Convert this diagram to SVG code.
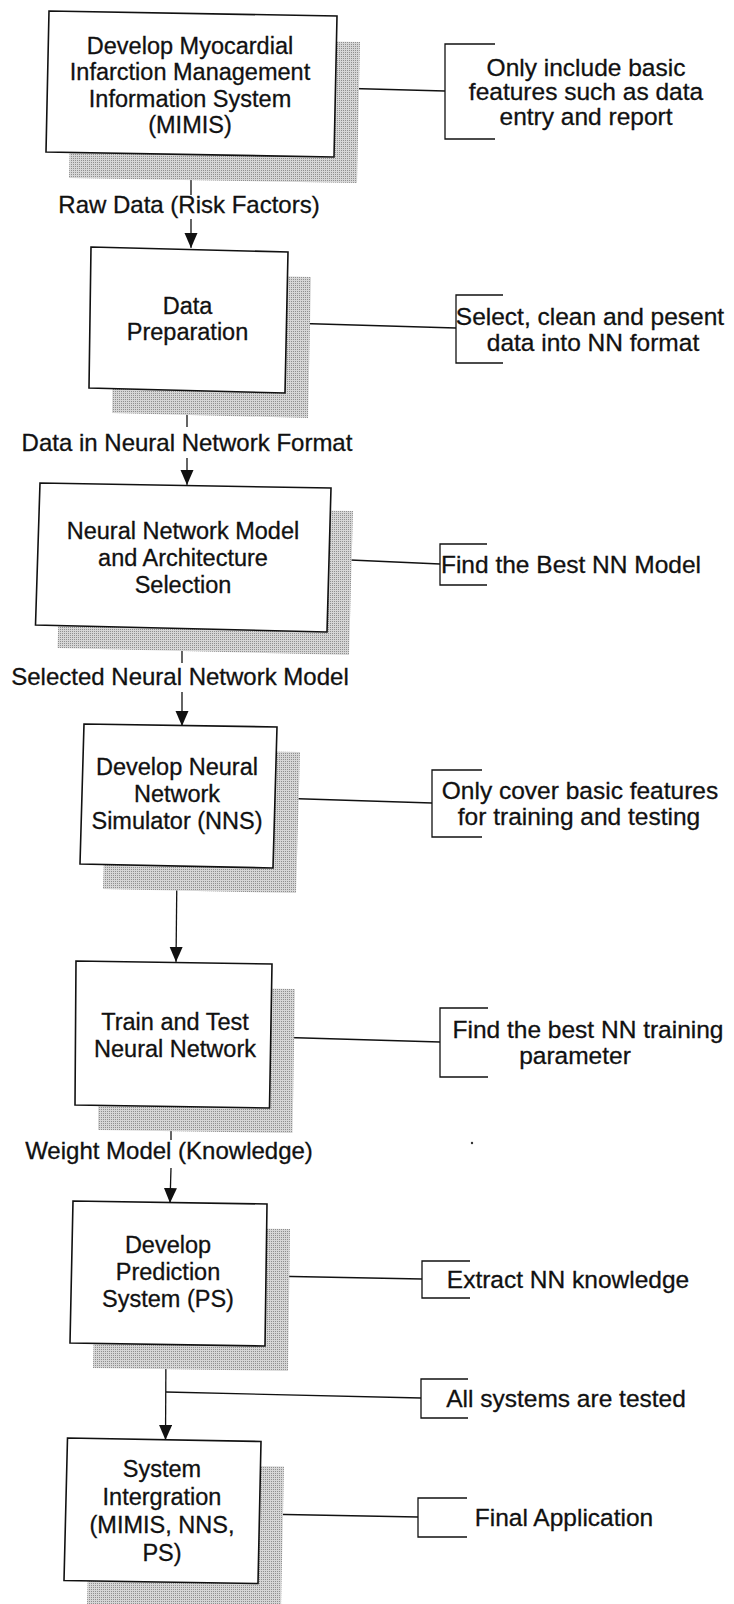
<svg xmlns="http://www.w3.org/2000/svg" width="734" height="1604" viewBox="0 0 734 1604">
  <defs>
    <!-- stippled grey used for the drop shadows -->
    <pattern id="stipple" width="2" height="2" patternUnits="userSpaceOnUse">
      <rect width="2" height="2" fill="#d6d6d6"/>
      <rect width="1" height="1" fill="#8f8f8f"/>
    </pattern>
    <marker id="arrow" markerUnits="userSpaceOnUse" markerWidth="14" markerHeight="16" refX="15" refY="6.5" orient="auto">
      <path d="M0,0 L15,6.5 L0,13 Z" fill="#111"/>
    </marker>
  </defs>
  <style>
    .box { fill: #fff; stroke: #111; stroke-width: 1.6; }
    .shadow { fill: url(#stipple); stroke: none; }
    .line { fill: none; stroke: #111; stroke-width: 1.3; }
    .bracket { fill: none; stroke: #111; stroke-width: 1.3; }
    text { font-family: "Liberation Sans", Arial, sans-serif; font-size: 23.5px; fill: #111; stroke: #111; stroke-width: 0.3; text-anchor: middle; }
    .note text { font-size: 24.5px; }
    text.label { font-size: 24px; }
  </style>
  <rect width="734" height="1604" fill="#fff"/>

  <!-- flow connectors, labels and side links -->
  <g id="connectors">
    <!-- MIMIS -> Data Preparation -->
    <line class="line" x1="191" y1="157" x2="191" y2="195"/>
    <line class="line" x1="191" y1="219" x2="191" y2="248" marker-end="url(#arrow)"/>
    <text class="label" x="189" y="213">Raw Data (Risk Factors)</text>
    <!-- Data Preparation -> Model Selection -->
    <line class="line" x1="187" y1="390" x2="187" y2="427"/>
    <line class="line" x1="187" y1="458" x2="187" y2="485" marker-end="url(#arrow)"/>
    <text class="label" x="187" y="451">Data in Neural Network Format</text>
    <!-- Model Selection -> Simulator -->
    <line class="line" x1="182" y1="630" x2="182" y2="663"/>
    <line class="line" x1="182" y1="692" x2="182" y2="726" marker-end="url(#arrow)"/>
    <text class="label" x="180" y="685">Selected Neural Network Model</text>
    <!-- Simulator -> Train and Test -->
    <line class="line" x1="177" y1="866" x2="176" y2="962" marker-end="url(#arrow)"/>
    <!-- Train and Test -> Prediction System -->
    <line class="line" x1="171" y1="1107" x2="171" y2="1140"/>
    <line class="line" x1="171" y1="1168" x2="170" y2="1203" marker-end="url(#arrow)"/>
    <text class="label" x="169" y="1159">Weight Model (Knowledge)</text>
    <circle cx="472" cy="1143" r="1.2" fill="#333"/>
    <!-- Prediction System -> System Integration -->
    <line class="line" x1="166" y1="1345" x2="165.5" y2="1440" marker-end="url(#arrow)"/>
    <line class="line" x1="166" y1="1392" x2="421" y2="1398"/>
    <!-- side links to notes -->
    <line class="line" x1="334" y1="88" x2="445" y2="91"/>
    <line class="line" x1="286" y1="323" x2="456" y2="328"/>
    <line class="line" x1="328" y1="559" x2="440" y2="564"/>
    <line class="line" x1="275" y1="798" x2="432" y2="803"/>
    <line class="line" x1="271" y1="1037" x2="440" y2="1042"/>
    <line class="line" x1="266" y1="1276" x2="422" y2="1279"/>
    <line class="line" x1="259" y1="1514" x2="418" y2="1517"/>
  </g>

  <!-- process steps -->
  <g id="node-mimis">
    <polygon class="shadow" points="49,11 337,16 334,157 46,152" transform="translate(23,26)"/>
    <polygon class="box" points="49,11 337,16 334,157 46,152"/>
    <text x="190" y="53.5">Develop Myocardial</text>
    <text x="190" y="80">Infarction Management</text>
    <text x="190" y="106.5">Information System</text>
    <text x="190" y="133">(MIMIS)</text>
  </g>

  <g id="node-prep">
    <polygon class="shadow" points="91,247 288,252 285,393 89,388" transform="translate(23,25)"/>
    <polygon class="box" points="91,247 288,252 285,393 89,388"/>
    <text x="187.5" y="313.5">Data</text>
    <text x="187.5" y="339.5">Preparation</text>
  </g>

  <g id="node-model">
    <polygon class="shadow" points="40,483 331,488 327,632 35.5,625" transform="translate(22,23)"/>
    <polygon class="box" points="40,483 331,488 327,632 35.5,625"/>
    <text x="183" y="538.5">Neural Network Model</text>
    <text x="183" y="565.5">and Architecture</text>
    <text x="183" y="592.5">Selection</text>
  </g>

  <g id="node-simulator">
    <polygon class="shadow" points="84,724 277,727 273,868 80,864" transform="translate(23,25)"/>
    <polygon class="box" points="84,724 277,727 273,868 80,864"/>
    <text x="177" y="775">Develop Neural</text>
    <text x="177" y="802">Network</text>
    <text x="177" y="829">Simulator (NNS)</text>
  </g>

  <g id="node-train">
    <polygon class="shadow" points="76,961 272,964 269.5,1108 75,1105" transform="translate(23,25)"/>
    <polygon class="box" points="76,961 272,964 269.5,1108 75,1105"/>
    <text x="175" y="1029.5">Train and Test</text>
    <text x="175" y="1056.5">Neural Network</text>
  </g>

  <g id="node-prediction">
    <polygon class="shadow" points="73,1201 267,1204 265,1346 70,1343" transform="translate(23,25)"/>
    <polygon class="box" points="73,1201 267,1204 265,1346 70,1343"/>
    <text x="168" y="1253">Develop</text>
    <text x="168" y="1280">Prediction</text>
    <text x="168" y="1307">System (PS)</text>
  </g>

  <g id="node-integration">
    <polygon class="shadow" points="67.5,1438 261,1441.5 258,1583.5 64,1580.5" transform="translate(23,25)"/>
    <polygon class="box" points="67.5,1438 261,1441.5 258,1583.5 64,1580.5"/>
    <text x="162" y="1477">System</text>
    <text x="162" y="1505">Intergration</text>
    <text x="162" y="1533">(MIMIS, NNS,</text>
    <text x="162" y="1561">PS)</text>
  </g>

  <!-- bracketed notes -->
  <g id="note-mimis" class="note">
    <path class="bracket" d="M495,44 H445 V139 H495"/>
    <text x="586" y="75.5">Only include basic</text>
    <text x="586" y="100">features such as data</text>
    <text x="586" y="124.5">entry and report</text>
  </g>
  <g id="note-prep" class="note">
    <path class="bracket" d="M503,295 H456 V363 H503"/>
    <text x="590" y="325">Select, clean and pesent</text>
    <text x="593" y="351">data into NN format</text>
  </g>
  <g id="note-model" class="note">
    <path class="bracket" d="M487,544 H440 V585 H487"/>
    <text x="571" y="573">Find the Best NN Model</text>
  </g>
  <g id="note-simulator" class="note">
    <path class="bracket" d="M482,770 H432 V837 H482"/>
    <text x="580" y="799">Only cover basic features</text>
    <text x="579" y="825">for training and testing</text>
  </g>
  <g id="note-train" class="note">
    <path class="bracket" d="M488,1008 H440 V1077 H488"/>
    <text x="588" y="1038">Find the best NN training</text>
    <text x="575" y="1064">parameter</text>
  </g>
  <g id="note-prediction" class="note">
    <path class="bracket" d="M470,1261 H422 V1298 H470"/>
    <text x="568" y="1288">Extract NN knowledge</text>
  </g>
  <g id="note-tested" class="note">
    <path class="bracket" d="M468,1379 H421 V1418 H468"/>
    <text x="566" y="1407">All systems are tested</text>
  </g>
  <g id="note-integration" class="note">
    <path class="bracket" d="M467,1498 H418 V1537 H467"/>
    <text x="564" y="1526">Final Application</text>
  </g>
</svg>
